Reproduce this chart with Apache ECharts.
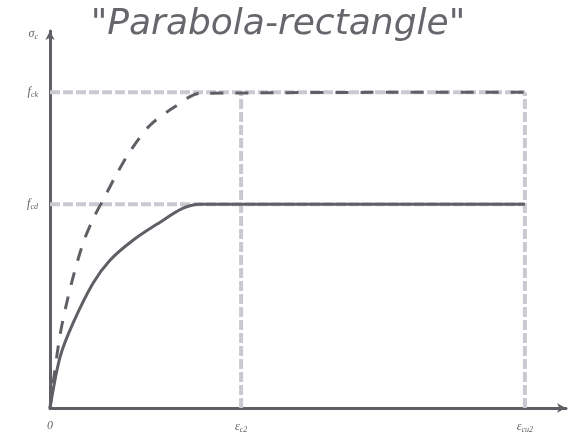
<!DOCTYPE html>
<html>
<head>
<meta charset="utf-8">
<script src="https://cdn.jsdelivr.net/npm/echarts@6/dist/echarts.min.js"></script>
<style>
  html, body { margin: 0; padding: 0; background: #ffffff; }
  #chart { width: 576px; height: 444px; }
</style>
</head>
<body>
<div id="chart"></div>
<script>
// Strain values (axis units) and stress levels
const epsC2 = 2.0;
const epsCu2 = 4.97;
const fcd = 20;
const fck = 31;

// Design curve (solid): parabola up to plateau, then constant fcd
const designStrain = [0, 0.105, 0.241, 0.45, 0.628, 0.869, 1.152, 1.393, 1.571, 4.97];
const designStress = [0, 5.0, 8.33, 12.25, 14.51, 16.47, 18.24, 19.61, 20, 20];

// Characteristic curve (dashed): parabola up to fck, then constant
const charStrain = [0, 0.105, 0.22, 0.346, 0.45, 0.565, 0.691, 0.838, 1.047, 1.298, 1.571, 4.97];
const charStress = [0, 7.16, 12.06, 16.18, 18.53, 20.59, 22.84, 25.2, 27.75, 29.51, 30.88, 31];

// Tick positions and their labels
const xTickValues = [0, epsC2, epsCu2];
const xTickLabels = ['{m|0}', '{m|ε}{s|c2}', '{m|ε}{s|cu2}'];
const yTickValues = [fcd, fck];
const yTickLabels = ['{m|f}{s|cd}', '{m|f}{s|ck}'];

const pairs = (xs, ys) => xs.map((x, i) => [x, ys[i]]);

const ink = '#5f5f66';
const guide = '#c9c9d1';
const richText = {
  m: { fontSize: 12, color: ink, fontFamily: 'Liberation Serif', fontStyle: 'italic' },
  s: { fontSize: 8, color: ink, fontFamily: 'Liberation Serif', fontStyle: 'italic', padding: [6, 0, 0, 0] }
};

const guideLine = (data) => ({
  type: 'line', data, symbol: 'none', silent: true, z: 1,
  lineStyle: { color: guide, width: 4, type: [10, 3] }
});

const chart = echarts.init(document.getElementById('chart'), null, { renderer: 'canvas' });
chart.setOption({
  animation: false,
  backgroundColor: '#ffffff',
  title: {
    text: '"Parabola-rectangle"',
    left: 273, textAlign: 'center', top: 2,
    textStyle: { fontFamily: 'DejaVu Sans', fontStyle: 'italic', fontWeight: 'normal', fontSize: 36, color: '#66666c' }
  },
  grid: { left: 50, right: 10, top: 31, bottom: 36, containLabel: false },
  xAxis: {
    type: 'value', min: 0, max: 5.4,
    axisLine: { show: true, onZero: false, symbol: ['none', 'arrow'], symbolSize: [7, 9], lineStyle: { color: ink, width: 3 } },
    axisTick: { show: false },
    splitLine: { show: false },
    axisLabel: {
      customValues: xTickValues, margin: 12,
      formatter: (v) => xTickLabels[xTickValues.indexOf(v)] || '',
      rich: richText
    }
  },
  yAxis: {
    type: 'value', min: 0, max: 37,
    name: '{m|σ}{s|c}', nameLocation: 'end', nameGap: -10,
    nameTextStyle: { align: 'right', padding: [0, 12, 0, 0], rich: richText },
    axisLine: { show: true, onZero: false, symbol: ['none', 'arrow'], symbolSize: [7, 9], lineStyle: { color: ink, width: 3 } },
    axisTick: { show: false },
    splitLine: { show: false },
    axisLabel: {
      customValues: yTickValues, margin: 12,
      formatter: (v) => yTickLabels[yTickValues.indexOf(v)] || '',
      rich: richText
    }
  },
  series: [
    guideLine([[0, fck], [epsCu2, fck]]),
    guideLine([[0, fcd], [epsCu2, fcd]]),
    guideLine([[epsC2, 0], [epsC2, fck]]),
    guideLine([[epsCu2, 0], [epsCu2, fck]]),
    {
      type: 'line', data: pairs(charStrain, charStress), symbol: 'none', smooth: 0.3, z: 3,
      lineStyle: { color: ink, width: 3, type: [13, 12] }
    },
    {
      type: 'line', data: pairs(designStrain, designStress), symbol: 'none', smooth: 0.3, z: 4,
      lineStyle: { color: ink, width: 3 }
    }
  ]
});
</script>
</body>
</html>
